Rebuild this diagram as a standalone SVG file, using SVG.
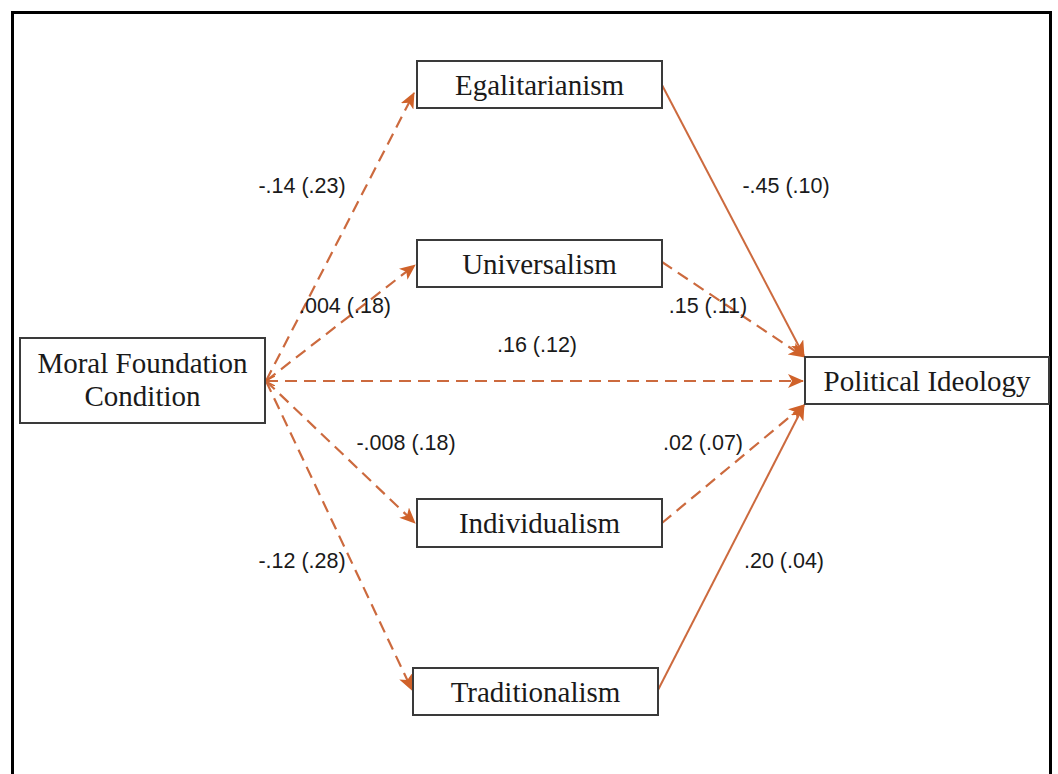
<svg xmlns="http://www.w3.org/2000/svg" width="1058" height="774" viewBox="0 0 1058 774">
<style>
.box{fill:#fff;stroke:#3a3a3a;stroke-width:2}
.nt{font-family:"Liberation Serif","Times New Roman",serif;font-size:29px;fill:#1a1a1a;text-anchor:middle}
.lb{font-family:"Liberation Sans",Arial,sans-serif;font-size:21.5px;fill:#1a1a1a;text-anchor:middle}
.solid{fill:none;stroke:#CC6A3E;stroke-width:2}
.dash{fill:none;stroke:#CC6A3E;stroke-width:2.2;stroke-dasharray:12 7}
</style>
<defs>
<marker id="ah" viewBox="0 0 16 14" refX="15" refY="7" markerWidth="16" markerHeight="14" markerUnits="userSpaceOnUse" orient="auto">
<path d="M0,0 L16,7 L0,14 L4,7 Z" fill="#D0622A"/>
</marker>
<marker id="ahs" viewBox="0 0 10 10" refX="1" refY="5" markerWidth="10" markerHeight="10" markerUnits="userSpaceOnUse" orient="auto">
<path d="M10,0 L0,5 L10,10" fill="none" stroke="#D0622A" stroke-width="1.5"/>
</marker>
</defs>
<rect x="0" y="0" width="1058" height="774" fill="#fff"/>
<rect x="12.5" y="12.5" width="1038" height="790" fill="none" stroke="#000" stroke-width="3"/>
<g id="connectors">
<line class="dash" x1="266" y1="381" x2="414" y2="93" marker-end="url(#ah)"/>
<line class="dash" x1="266" y1="381" x2="415" y2="265" marker-end="url(#ah)"/>
<line class="dash" x1="266" y1="381" x2="803" y2="381" marker-start="url(#ahs)" marker-end="url(#ah)"/>
<line class="dash" x1="266" y1="381" x2="415" y2="523" marker-end="url(#ah)"/>
<line class="dash" x1="266" y1="381" x2="412" y2="690" marker-end="url(#ah)"/>
<line class="solid" x1="662" y1="85" x2="804" y2="356" marker-end="url(#ah)"/>
<line class="dash" x1="662" y1="262" x2="804" y2="357" marker-end="url(#ah)"/>
<line class="dash" x1="662" y1="523" x2="804" y2="405" marker-end="url(#ah)"/>
<line class="solid" x1="658" y1="690" x2="804" y2="405" marker-end="url(#ah)"/>
</g>
<g id="labels">
<text class="lb" x="302" y="193">-.14 (.23)</text>
<text class="lb" x="786" y="193">-.45 (.10)</text>
<text class="lb" x="345" y="313">.004 (.18)</text>
<text class="lb" x="708" y="313">.15 (.11)</text>
<text class="lb" x="537" y="352">.16 (.12)</text>
<text class="lb" x="406" y="450">-.008 (.18)</text>
<text class="lb" x="703" y="450">.02 (.07)</text>
<text class="lb" x="302" y="568">-.12 (.28)</text>
<text class="lb" x="784" y="568">.20 (.04)</text>
</g>
<g id="node-mfc">
<rect class="box" x="20" y="338" width="245" height="85"/>
<text class="nt" x="142.5" y="373">Moral Foundation</text>
<text class="nt" x="142.5" y="406">Condition</text>
</g>
<g id="node-egal">
<rect class="box" x="417" y="61" width="245" height="47"/>
<text class="nt" x="539.5" y="95">Egalitarianism</text>
</g>
<g id="node-univ">
<rect class="box" x="417" y="240" width="245" height="47"/>
<text class="nt" x="539.5" y="274">Universalism</text>
</g>
<g id="node-indiv">
<rect class="box" x="417" y="499" width="245" height="48"/>
<text class="nt" x="539.5" y="533">Individualism</text>
</g>
<g id="node-trad">
<rect class="box" x="413" y="668" width="245" height="47"/>
<text class="nt" x="535.5" y="702">Traditionalism</text>
</g>
<g id="node-pol">
<rect class="box" x="805" y="357" width="244" height="47"/>
<text class="nt" x="927" y="391">Political Ideology</text>
</g>
</svg>
